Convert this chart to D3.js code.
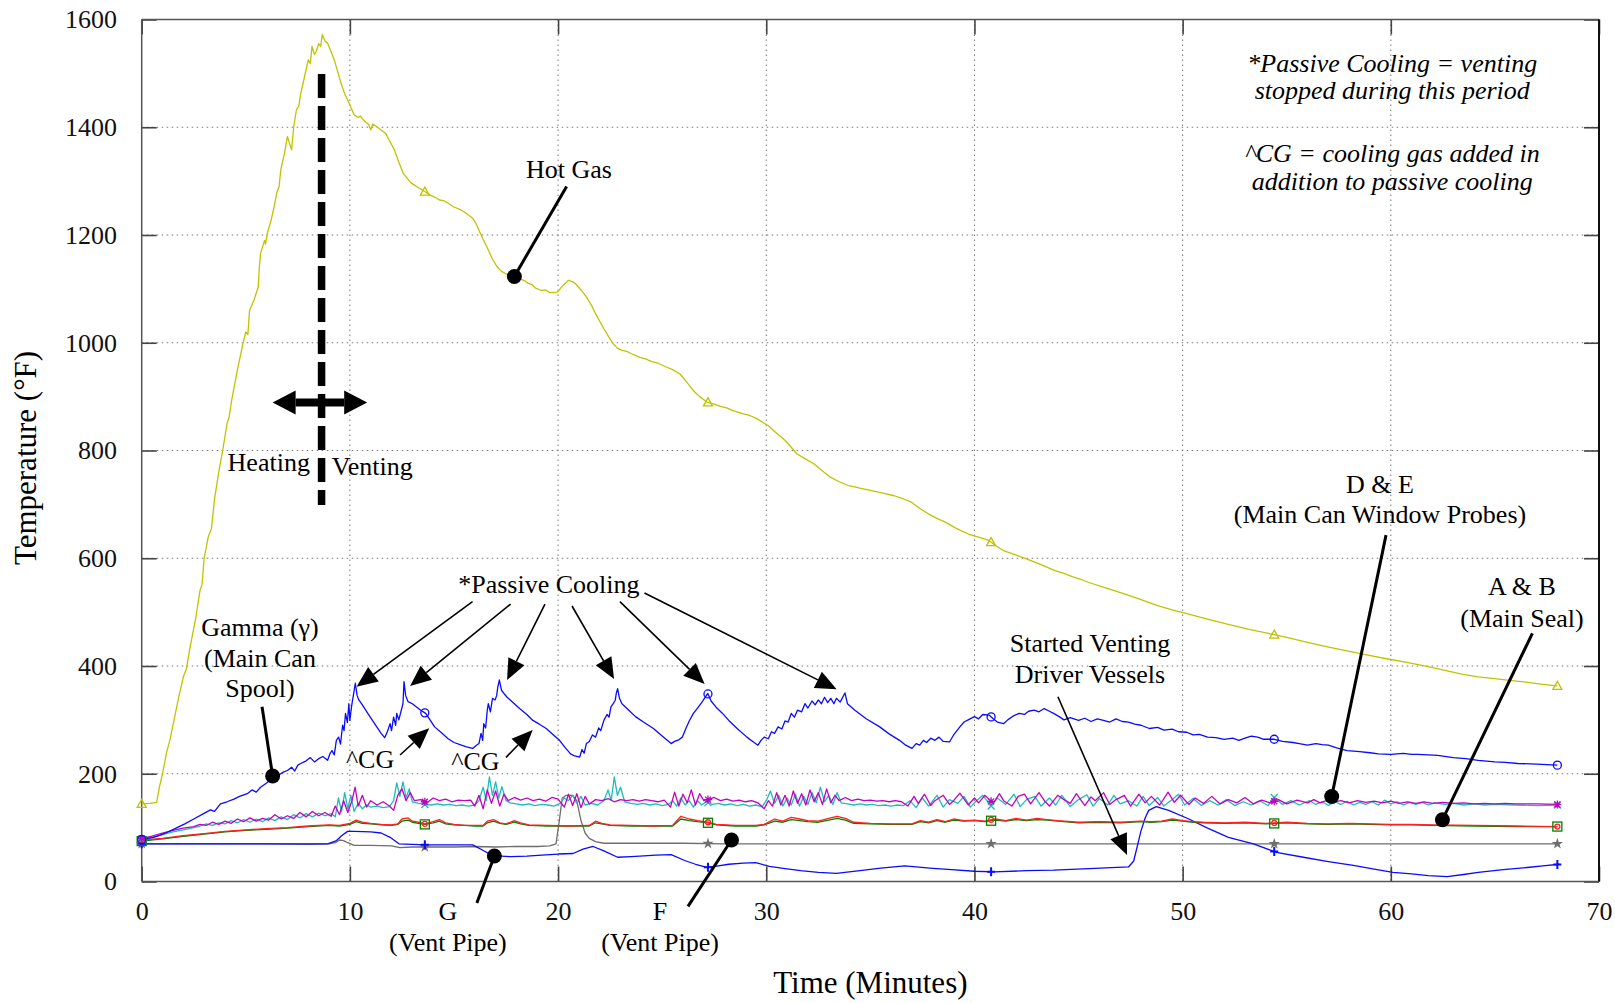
<!DOCTYPE html>
<html><head><meta charset="utf-8">
<script src="https://cdn.jsdelivr.net/npm/d3@7"></script>
<style>body{margin:0;background:#fff}</style>
</head><body>
<svg id="c" width="1615" height="1003"></svg>
<script>
// ---------------- DATA ----------------
const xTicks = [0,10,20,30,40,50,60,70];
const yTicks = [0,200,400,600,800,1000,1200,1400,1600];
const markerTimes = [0,13.6,27.2,40.8,54.4,68];

const hotGas = [[0,144],[0.4,145],[0.72,147],[0.85,175],[1.0,200],[1.2,240],[1.35,262],[1.5,290],[1.75,337],[2.0,380],[2.15,395],[2.3,430],[2.6,490],[2.8,540],[2.9,552],[3.0,600],[3.2,640],[3.35,655],[3.5,710],[3.7,760],[3.89,800],[4.1,850],[4.2,862],[4.32,893],[4.6,950],[4.86,998],[5.0,1020],[5.1,1015],[5.18,1060],[5.4,1080],[5.6,1104],[5.65,1140],[5.71,1166],[5.9,1190],[5.95,1183],[6.03,1203],[6.2,1225],[6.36,1252],[6.5,1280],[6.6,1290],[6.68,1321],[6.85,1350],[7.0,1383],[7.1,1370],[7.2,1358],[7.3,1400],[7.43,1432],[7.55,1440],[7.64,1463],[7.8,1490],[8.0,1525],[8.1,1518],[8.18,1550],[8.3,1535],[8.39,1541],[8.5,1555],[8.6,1550],[8.67,1572],[8.8,1560],[8.93,1556],[9.1,1540],[9.25,1525],[9.4,1505],[9.57,1482],[9.75,1462],[9.89,1451],[10.2,1423],[10.4,1418],[10.5,1421],[10.64,1414],[10.9,1405],[11.0,1395],[11.1,1406],[11.29,1401],[11.5,1395],[11.71,1389],[11.9,1375],[12.14,1358],[12.35,1335],[12.57,1314],[12.7,1308],[12.9,1298],[13.05,1294],[13.2,1290],[13.5,1283],[13.86,1274],[14.1,1270],[14.3,1265],[14.5,1264],[14.72,1259],[15.0,1252],[15.36,1246],[15.6,1240],[15.9,1231],[16.05,1222],[16.2,1209],[16.4,1192],[16.65,1172],[16.85,1155],[17.07,1141],[17.3,1132],[17.5,1128],[17.7,1126],[17.93,1122],[18.2,1118],[18.4,1115],[18.57,1110],[18.75,1108],[18.9,1102],[19.2,1097],[19.4,1098],[19.6,1093],[19.97,1094],[20.2,1105],[20.5,1116],[20.7,1113],[20.83,1110],[21.1,1098],[21.36,1085],[21.6,1070],[21.8,1054],[22.0,1040],[22.2,1026],[22.45,1010],[22.65,998],[22.85,990],[23.07,986],[23.3,984],[23.5,980],[23.93,973],[24.2,970],[24.5,965],[24.8,962],[25.2,955],[25.5,950],[25.86,942],[26.2,926],[26.5,911],[26.8,900],[27.15,890],[27.5,886],[27.8,882],[28.1,879],[28.4,874],[28.9,868],[29.2,865],[29.5,860],[30.1,846],[30.5,832],[30.9,819],[31.2,806],[31.46,794],[31.9,784],[32.3,775],[32.7,762],[33.1,750],[33.5,742],[33.94,735],[34.2,733],[34.5,730],[35.0,726],[35.6,721],[36.15,716],[36.6,710],[36.97,704],[37.4,692],[37.8,682],[38.2,674],[38.6,667],[39.1,656],[39.7,645],[40.2,639],[40.7,633],[41.0,624],[41.4,614],[42.0,606],[42.5,599],[43.2,588],[43.87,577],[44.3,572],[44.7,566],[45.1,561],[45.5,555],[46.3,545],[47.2,534],[48.0,523],[48.8,512],[49.5,504],[50.2,497],[51.1,488],[52.1,478],[53.2,468],[54.3,459],[55.1,452],[56.0,444],[56.9,436],[57.9,428],[58.9,420],[59.86,413],[60.7,407],[61.5,401],[62.5,393],[63.4,385],[64.2,380],[65.1,376],[65.8,373],[66.5,370],[67.3,366],[68.0,363]];

const gamma = [[0,78],[0.3,80],[0.57,82],[0.9,86],[1.2,91],[1.6,98],[2.07,107],[2.5,116],[2.93,125],[3.3,133],[3.5,130],[3.78,144],[4.1,148],[4.43,153],[4.7,158],[5.07,163],[5.3,170],[5.5,166],[5.71,175],[6.0,183],[6.36,194],[6.6,198],[6.8,203],[7.0,206],[7.2,212],[7.35,205],[7.5,216],[7.64,219],[7.9,224],[8.1,230],[8.3,222],[8.5,228],[8.7,232],[8.93,225],[9.05,238],[9.14,243],[9.25,235],[9.35,262],[9.46,268],[9.55,255],[9.65,290],[9.72,280],[9.79,312],[9.88,295],[9.95,330],[10.0,299],[10.08,325],[10.17,346],[10.26,368],[10.35,345],[10.43,337],[10.6,328],[10.86,312],[11.1,298],[11.29,287],[11.5,275],[11.67,267],[11.8,278],[11.93,293],[12.0,280],[12.1,305],[12.2,290],[12.25,312],[12.35,300],[12.47,318],[12.55,330],[12.6,371],[12.68,345],[12.79,334],[13.0,330],[13.2,324],[13.4,318],[13.64,312],[13.85,300],[14.07,287],[14.4,276],[14.72,265],[15.0,258],[15.36,253],[15.6,250],[15.9,247],[16.05,252],[16.2,256],[16.3,275],[16.38,262],[16.43,293],[16.52,285],[16.6,318],[16.65,330],[16.75,315],[16.85,340],[16.97,337],[17.05,345],[17.1,360],[17.18,374],[17.28,355],[17.4,349],[17.55,342],[17.7,337],[17.9,330],[18.15,321],[18.5,310],[18.79,299],[19.1,292],[19.43,284],[19.75,273],[20.07,262],[20.35,248],[20.6,237],[20.8,233],[21.04,231],[21.15,245],[21.25,238],[21.36,256],[21.5,260],[21.65,272],[21.8,268],[21.95,285],[22.05,280],[22.2,299],[22.35,310],[22.45,305],[22.54,324],[22.65,330],[22.75,337],[22.8,350],[22.86,358],[22.95,340],[23.07,330],[23.4,318],[23.72,306],[24.1,296],[24.58,284],[25.0,270],[25.43,256],[25.6,260],[25.8,263],[25.97,268],[26.15,285],[26.3,298],[26.5,312],[26.7,322],[26.93,334],[27.19,349],[27.35,335],[27.58,324],[27.9,312],[28.2,299],[28.6,284],[29.07,268],[29.35,260],[29.6,253],[29.75,262],[29.9,268],[30.1,265],[30.25,278],[30.4,275],[30.57,287],[30.75,283],[30.9,298],[31.05,296],[31.2,312],[31.35,305],[31.5,318],[31.7,315],[31.86,330],[32.0,322],[32.2,335],[32.35,328],[32.5,337],[32.65,330],[32.8,342],[32.95,332],[33.1,340],[33.25,330],[33.37,340],[33.55,333],[33.78,350],[33.9,330],[34.26,318],[34.8,302],[35.45,287],[35.9,274],[36.4,262],[36.7,253],[37.0,247],[37.2,256],[37.37,253],[37.55,262],[37.7,258],[37.9,266],[38.1,262],[38.3,268],[38.5,260],[38.8,259],[39.0,272],[39.3,287],[39.5,296],[39.7,300],[40.0,306],[40.2,302],[40.4,310],[40.7,309],[40.9,302],[41.1,296],[41.4,293],[41.6,300],[41.9,308],[42.15,312],[42.4,310],[42.6,316],[42.87,318],[43.1,315],[43.35,321],[43.6,316],[43.8,312],[44.07,306],[44.3,300],[44.6,304],[45.0,299],[45.3,303],[45.6,297],[45.9,302],[46.2,299],[46.5,296],[46.8,302],[47.1,297],[47.4,296],[47.7,292],[48.0,290],[48.4,284],[48.8,286],[49.1,281],[49.5,283],[49.8,278],[50.2,277],[50.5,272],[50.8,273],[51.2,268],[51.6,267],[52.0,264],[52.4,266],[52.7,262],[53.0,266],[53.3,270],[53.6,268],[53.9,264],[54.4,264],[54.8,260],[55.3,258],[55.6,256],[56.0,253],[56.4,256],[56.7,254],[57.0,253],[57.4,248],[57.9,243],[58.5,241],[59.0,239],[59.4,237],[60.0,236],[60.6,238],[61.0,236],[61.3,236],[61.8,235],[62.25,234],[63.0,230],[63.6,228],[64.2,225],[65.0,222],[65.5,221],[66.1,219],[67.0,218],[68.0,216]];

const probeD = [[0,80],[0.5,84],[1,90],[1.5,95],[2,99],[2.5,102],[2.8,106],[3.1,104],[3.4,110],[3.7,106],[4,112],[4.3,108],[4.6,116],[4.9,111],[5.2,118],[5.5,112],[5.8,117],[6.1,114],[6.4,124],[6.7,116],[7,122],[7.3,117],[7.6,128],[7.9,120],[8.2,130],[8.5,122],[8.8,128],[9.1,121],[9.3,140],[9.5,124],[9.7,150],[9.9,128],[10.1,150],[10.25,175],[10.4,140],[10.6,160],[10.8,138],[11.0,150],[11.3,142],[11.6,148],[11.9,140],[12.1,132],[12.3,160],[12.5,172],[12.7,150],[12.9,165],[13.1,150],[13.4,152],[13.7,146],[14.0,155],[14.3,150],[14.6,153],[14.9,148],[15.2,151],[15.5,150],[15.8,151],[16.0,140],[16.2,160],[16.4,135],[16.6,170],[16.8,145],[17.0,168],[17.2,140],[17.4,162],[17.6,150],[17.9,156],[18.2,151],[18.5,155],[18.8,150],[19.1,153],[19.4,149],[19.7,156],[20.0,153],[20.3,138],[20.5,162],[20.7,141],[20.9,163],[21.1,137],[21.3,158],[21.5,144],[21.8,152],[22.1,150],[22.4,154],[22.7,148],[23.0,152],[23.3,150],[23.6,152],[23.9,149],[24.2,152],[24.5,150],[24.8,148],[25.1,151],[25.4,138],[25.6,166],[25.8,140],[26.0,162],[26.2,146],[26.4,170],[26.6,142],[26.8,163],[27.0,150],[27.2,152],[27.5,156],[27.8,150],[28.1,153],[28.4,149],[28.7,151],[29.0,148],[29.3,150],[29.6,146],[29.9,135],[30.1,150],[30.3,140],[30.5,165],[30.7,142],[30.9,160],[31.1,140],[31.3,168],[31.5,145],[31.7,163],[31.9,142],[32.1,170],[32.3,148],[32.5,165],[32.7,143],[32.9,172],[33.1,146],[33.3,160],[33.5,150],[33.8,156],[34.1,150],[34.4,153],[34.7,150],[35.0,151],[35.3,149],[35.6,150],[35.9,148],[36.2,150],[36.5,148],[36.8,140],[37.1,158],[37.3,145],[37.6,162],[37.9,141],[38.1,150],[38.5,160],[38.8,143],[39.0,150],[39.3,164],[39.7,142],[40.0,155],[40.2,146],[40.5,160],[40.9,145],[41.2,163],[41.4,150],[41.8,140],[42.1,158],[42.4,162],[42.7,144],[43.1,165],[43.4,148],[43.6,140],[44.0,160],[44.3,152],[44.6,145],[44.9,163],[45.3,141],[45.6,157],[45.8,150],[46.2,165],[46.5,143],[46.8,152],[47.2,160],[47.5,140],[47.9,162],[48.2,146],[48.5,158],[48.9,142],[49.3,166],[49.6,147],[49.9,160],[50.3,143],[50.6,155],[51.0,145],[51.4,158],[51.8,144],[52.2,152],[52.6,146],[53.0,156],[53.4,144],[53.8,151],[54.2,146],[54.6,152],[55.0,144],[55.5,151],[56.0,146],[56.3,152],[56.6,146],[56.9,150],[57.2,147],[57.6,150],[58.0,146],[58.4,150],[58.8,147],[59.2,149],[59.6,146],[60.0,149],[60.4,145],[60.8,148],[61.2,145],[61.6,148],[62.0,145],[62.5,147],[63.0,145],[63.5,146],[64.0,144],[64.5,145],[65.0,144],[65.5,145],[66.0,144],[67.0,144],[68.0,143]];

const probeE = [[0,78],[0.5,82],[1,87],[1.5,92],[2,96],[2.5,100],[2.8,103],[3.1,107],[3.4,104],[3.7,109],[4,107],[4.3,113],[4.6,109],[4.9,115],[5.2,110],[5.5,116],[5.8,111],[6.1,118],[6.4,113],[6.7,120],[7,115],[7.3,124],[7.6,118],[7.9,126],[8.2,120],[8.5,127],[8.8,122],[9.1,126],[9.3,120],[9.45,155],[9.6,130],[9.75,165],[9.9,135],[10.05,160],[10.2,130],[10.4,145],[10.6,135],[10.8,142],[11.0,138],[11.3,140],[11.6,137],[11.9,139],[12.1,150],[12.25,183],[12.4,158],[12.55,185],[12.7,155],[12.85,172],[13.0,148],[13.3,145],[13.6,143],[13.9,142],[14.2,144],[14.5,142],[14.8,143],[15.1,141],[15.4,142],[15.7,140],[16.0,142],[16.2,150],[16.4,175],[16.55,150],[16.7,194],[16.85,160],[17.0,185],[17.15,155],[17.3,176],[17.5,150],[17.7,146],[18.0,144],[18.3,142],[18.6,144],[18.9,141],[19.2,143],[19.5,142],[19.8,140],[20.1,145],[20.3,155],[20.5,150],[20.7,160],[20.9,145],[21.1,158],[21.3,142],[21.6,145],[21.9,142],[22.2,150],[22.4,170],[22.55,150],[22.7,194],[22.85,160],[23.0,175],[23.2,148],[23.5,145],[23.8,143],[24.1,145],[24.4,142],[24.7,144],[25.0,141],[25.3,143],[25.5,150],[25.7,140],[25.9,155],[26.1,142],[26.3,150],[26.5,138],[26.7,150],[26.9,142],[27.1,148],[27.4,143],[27.7,145],[28.0,142],[28.3,144],[28.6,141],[28.9,143],[29.2,140],[29.5,142],[29.8,139],[30.0,150],[30.2,168],[30.4,145],[30.6,160],[30.8,140],[31.0,155],[31.2,142],[31.4,162],[31.6,140],[31.8,158],[32.0,143],[32.2,165],[32.4,146],[32.6,175],[32.8,148],[33.0,160],[33.2,143],[33.4,165],[33.6,146],[33.9,144],[34.2,142],[34.5,144],[34.8,142],[35.1,143],[35.4,141],[35.7,142],[36.0,140],[36.3,142],[36.6,141],[36.9,150],[37.2,137],[37.5,155],[37.8,140],[38.2,160],[38.5,138],[38.8,152],[39.2,145],[39.5,158],[39.8,138],[40.1,150],[40.4,160],[40.8,140],[41.1,155],[41.5,143],[41.9,162],[42.2,139],[42.5,152],[42.9,158],[43.2,140],[43.6,155],[43.9,142],[44.2,160],[44.6,139],[45.0,152],[45.4,161],[45.7,140],[46.0,154],[46.4,142],[46.7,160],[47.0,144],[47.4,150],[47.8,140],[48.1,158],[48.4,141],[48.8,156],[49.1,140],[49.5,152],[49.8,162],[50.1,142],[50.5,154],[50.9,141],[51.3,150],[51.7,142],[52.1,152],[52.5,141],[52.9,148],[53.3,142],[53.7,150],[54.1,141],[54.4,156],[54.8,143],[55.2,150],[55.6,142],[56.1,150],[56.4,143],[56.7,148],[57.0,141],[57.3,148],[57.6,143],[57.9,149],[58.2,142],[58.5,147],[58.8,143],[59.1,148],[59.4,142],[59.7,151],[60.0,144],[60.3,148],[60.6,142],[60.9,147],[61.2,143],[61.5,147],[61.8,142],[62.1,146],[62.6,143],[63.0,145],[63.5,142],[64.0,144],[64.5,142],[65.0,143],[66.0,142],[67.0,141],[68.0,142]];

const sealA = [[0,77],[1,80],[2,85],[3,89],[4,93],[5,96],[6,98],[7,100],[8,103],[9,105],[9.5,104],[10.0,108],[10.3,114],[10.6,110],[11.0,108],[11.5,106],[12.0,105],[12.3,107],[12.5,116],[12.8,118],[13.0,112],[13.3,110],[13.6,107],[14.0,111],[14.3,115],[14.6,109],[15.0,106],[15.5,104],[16.0,104],[16.4,104],[16.6,112],[16.9,115],[17.2,109],[17.5,107],[17.9,113],[18.2,109],[18.6,105],[19.5,104],[20.5,103],[21.5,104],[21.8,112],[22.1,108],[22.5,105],[23.5,104],[24.5,103],[25.5,104],[25.9,121],[26.3,116],[26.7,113],[27.2,110],[27.6,106],[28.5,104],[29.5,104],[29.9,106],[30.4,116],[30.8,112],[31.2,119],[31.6,116],[32.0,113],[32.5,112],[33.0,117],[33.4,121],[33.8,117],[34.2,110],[35,108],[36,107],[37,107],[37.4,113],[37.8,110],[38.2,115],[38.6,111],[39.0,116],[39.5,113],[40,114],[40.5,112],[41,116],[41.5,113],[42,117],[42.5,114],[43,117],[43.5,115],[44,113],[45,110],[46,111],[47,110],[48,112],[48.5,111],[49,112],[49.5,116],[50,113],[50.5,111],[51,110],[52,109],[53,110],[54,108],[55,110],[56,108],[57,107],[58,108],[59,107],[60,106],[61,106],[62,105],[64,104],[66,103],[68,102]];

const sealB = [[0,75],[1,79],[2,84],[3,88],[4,92],[5,95],[6,97],[7,99],[8,102],[9,104],[9.5,103],[10.0,106],[10.3,111],[10.6,108],[11.0,107],[11.5,105],[12.0,104],[12.3,106],[12.5,112],[12.8,114],[13.0,110],[13.3,108],[13.6,106],[14.0,109],[14.3,112],[14.6,107],[15.0,105],[15.5,104],[16.0,103],[16.4,103],[16.6,109],[16.9,112],[17.2,108],[17.5,106],[17.9,110],[18.2,107],[18.6,104],[19.5,103],[20.5,103],[21.5,103],[21.8,109],[22.1,107],[22.5,104],[23.5,103],[24.5,103],[25.5,103],[25.9,116],[26.3,113],[26.7,111],[27.2,109],[27.6,105],[28.5,103],[29.5,103],[29.9,105],[30.4,112],[30.8,110],[31.2,115],[31.6,113],[32.0,111],[32.5,110],[33.0,114],[33.4,117],[33.8,114],[34.2,108],[35,107],[36,106],[37,106],[37.4,111],[37.8,109],[38.2,113],[38.6,110],[39.0,114],[39.5,112],[40,113],[40.5,111],[41,114],[41.5,112],[42,115],[42.5,113],[43,115],[43.5,114],[44,112],[45,109],[46,110],[47,109],[48,111],[48.5,110],[49,111],[49.5,114],[50,112],[50.5,110],[51,109],[52,108],[53,109],[54,107],[55,109],[56,107],[57,106],[58,107],[59,106],[60,105],[61,105],[62,104],[64,103],[66,102],[68,102]];

const ventF = [[0,70],[2,70],[4,70],[6,70],[8,69],[9.0,70],[9.3,72],[9.5,77],[9.7,76],[9.9,72],[10.2,67],[11.0,67],[12.0,66],[12.4,63],[13.0,64],[14.0,64],[15.0,64],[16.0,65],[17.0,64],[18.0,65],[19.0,65],[19.6,66],[19.9,70],[20.05,110],[20.2,155],[20.4,160],[20.7,160],[20.9,150],[21.1,113],[21.3,90],[21.5,80],[21.8,74],[22.2,71],[24,71],[26,71],[28,70],[30,70],[32,70],[34,70],[36,70],[38,70],[40,70],[44,70],[48,70],[52,70],[56,70],[60,70],[64,70],[68,70]];

const ventG = [[0,70],[2,70],[4,70],[6,70],[8,70],[8.93,70],[9.36,76],[9.6,85],[9.89,93],[10.21,93],[11.0,92],[11.5,90],[11.93,82],[12.36,70],[13.0,69],[13.64,68],[14.5,68],[15.9,68],[16.43,57],[16.86,48],[17.72,46],[18.5,47],[19.22,49],[20.0,51],[20.72,52],[21.2,60],[21.68,65],[22.2,57],[22.86,45],[23.5,46],[23.93,47],[24.7,49],[25.43,50],[26.08,39],[26.6,32],[27.15,26],[27.7,29],[28.2,32],[28.9,34],[29.5,35],[30.15,28],[30.9,24],[31.65,20],[32.5,17],[33.37,15],[34.5,20],[35.5,25],[36.65,29],[37.2,27],[37.85,25],[38.9,22],[40.0,19],[40.96,18],[42.5,20],[43.8,21],[45.5,24],[47.4,27],[47.65,38],[47.85,70],[48.0,94],[48.2,118],[48.37,132],[48.73,139],[49.33,132],[50.3,116],[51.2,99],[52.2,82],[53.4,70],[54.5,54],[55.8,45],[57.0,37],[58.2,30],[59.2,23],[60.1,17],[61.0,14],[61.8,11],[62.7,9],[63.5,13],[64.2,17],[65.4,22],[66.55,26],[67.3,29],[68.1,32]];

// ---------------- CHART ----------------
const W = 1615, H = 1003;
const FONT = '"Liberation Serif","Times New Roman",serif';
const svg = d3.select('#c');
svg.append('rect').attr('width', W).attr('height', H).attr('fill', '#fff');

const x = d3.scaleLinear().domain([0, 70]).range([141.7, 1599]);
const y = d3.scaleLinear().domain([0, 1600]).range([881.5, 19.5]);
const [X0, X1] = x.range(), [Y0, Y1] = y.range();

// grid
const grid = svg.append('g').attr('stroke', '#777').attr('stroke-width', 1).attr('stroke-dasharray', '1.5,3.5');
grid.selectAll('.gx').data(xTicks.slice(1, -1)).join('line')
  .attr('x1', d => x(d)).attr('x2', d => x(d)).attr('y1', Y1).attr('y2', Y0);
grid.selectAll('.gy').data(yTicks.slice(1, -1)).join('line')
  .attr('x1', X0).attr('x2', X1).attr('y1', d => y(d)).attr('y2', d => y(d));

// axes
function styleAxis(g) {
  g.attr('font-family', FONT);
  g.select('.domain').remove();
  g.selectAll('.tick line').attr('stroke', '#444').attr('stroke-width', 1.6);
  g.selectAll('.tick text').attr('font-family', FONT).attr('font-size', 26).attr('fill', '#111');
}
svg.append('g').attr('transform', `translate(0,${Y0})`)
  .call(d3.axisBottom(x).tickValues(xTicks).tickSize(-15).tickPadding(20).tickFormat(d3.format('d'))).call(styleAxis);
svg.append('g').attr('transform', `translate(${X0},0)`)
  .call(d3.axisLeft(y).tickValues(yTicks).tickSize(-15).tickPadding(24.7).tickFormat(d3.format('d'))).call(styleAxis);
svg.append('g').attr('transform', `translate(0,${Y1})`)
  .call(d3.axisTop(x).tickValues(xTicks).tickSize(-15).tickFormat('')).call(styleAxis);
svg.append('g').attr('transform', `translate(${X1},0)`)
  .call(d3.axisRight(y).tickValues(yTicks).tickSize(-15).tickFormat('')).call(styleAxis);

// frame
svg.append('line').attr('x1', X0).attr('x2', X1).attr('y1', Y1).attr('y2', Y1).attr('stroke', '#555').attr('stroke-width', 1.5);
svg.append('line').attr('x1', X0).attr('x2', X1).attr('y1', Y0).attr('y2', Y0).attr('stroke', '#555').attr('stroke-width', 1.5);
svg.append('line').attr('x1', X0).attr('x2', X0).attr('y1', Y1).attr('y2', Y0).attr('stroke', '#555').attr('stroke-width', 1.5);
svg.append('line').attr('x1', X1).attr('x2', X1).attr('y1', Y1).attr('y2', Y0).attr('stroke', '#111').attr('stroke-width', 2);

// axis titles
svg.append('text').attr('x', (X0 + X1) / 2).attr('y', 993).attr('text-anchor', 'middle')
  .attr('font-family', FONT).attr('font-size', 31).text('Time (Minutes)');
svg.append('text').attr('transform', 'translate(36,458) rotate(-90)').attr('text-anchor', 'middle')
  .attr('font-family', FONT).attr('font-size', 31).text('Temperature (°F)');

// series
const line = d3.line().x(d => x(d[0])).y(d => y(d[1]));
const series = [
  {data: ventF, color: '#6e6e6e', marker: 'star'},
  {data: ventG, color: '#0a0aff', marker: 'plus'},
  {data: sealB, color: '#008000', marker: 'square'},
  {data: sealA, color: '#ff2020', marker: 'smallcircle'},
  {data: probeE, color: '#1cbcbc', marker: 'x'},
  {data: probeD, color: '#c400c4', marker: 'asterisk'},
  {data: gamma, color: '#0a0aff', marker: 'circle'},
  {data: hotGas, color: '#c2c200', marker: 'triangle'}
];
function interp(data, t) {
  const i = Math.max(0, Math.min(data.length - 2, d3.bisector(d => d[0]).right(data, t) - 1));
  const a = data[i], b = data[i + 1];
  const f = Math.max(0, Math.min(1, (t - a[0]) / (b[0] - a[0])));
  return a[1] + f * (b[1] - a[1]);
}
const sg = svg.append('g');
series.forEach(s => {
  sg.append('path').attr('d', line(s.data)).attr('fill', 'none')
    .attr('stroke', s.color).attr('stroke-width', 1.3).attr('stroke-linejoin', 'round');
});
series.forEach(s => {
  markerTimes.forEach(t => {
    const px = x(t), py = y(interp(s.data, t));
    const g = sg.append('g').attr('transform', `translate(${px},${py})`)
      .attr('stroke', s.color).attr('fill', 'none').attr('stroke-width', 1.3);
    if (s.marker === 'triangle') g.append('path').attr('d', 'M0,-4.5L4.5,3.5L-4.5,3.5Z');
    else if (s.marker === 'circle') g.append('circle').attr('r', 4);
    else if (s.marker === 'square') g.append('rect').attr('x', -4.5).attr('y', -4.5).attr('width', 9).attr('height', 9);
    else if (s.marker === 'smallcircle') g.append('circle').attr('r', 2.5);
    else if (s.marker === 'x') g.append('path').attr('d', 'M-3.5,-3.5L3.5,3.5M-3.5,3.5L3.5,-3.5');
    else if (s.marker === 'asterisk') g.append('path').attr('d', 'M-4,0L4,0M0,-4L0,4M-3,-3L3,3M-3,3L3,-3');
    else if (s.marker === 'plus') g.append('path').attr('d', 'M-4,0L4,0M0,-4.5L0,4.5').attr('stroke-width', 2);
    else if (s.marker === 'star') g.append('path').attr('d', d3.symbol(d3.symbolStar, 40)()).attr('fill', s.color).attr('stroke', 'none');
  });
});

// ---------------- ANNOTATIONS ----------------
const ann = svg.append('g');
function txt(t, v, str, opts = {}) {
  ann.append('text').attr('x', x(t)).attr('y', y(v)).attr('text-anchor', opts.anchor || 'middle')
    .attr('font-family', FONT).attr('font-size', opts.size || 26)
    .attr('font-style', opts.italic ? 'italic' : 'normal').attr('fill', '#000').text(str);
}
function head(x2, y2, x1, y1, len, hw) {
  const a = Math.atan2(y2 - y1, x2 - x1);
  const bx = x2 - len * Math.cos(a), by = y2 - len * Math.sin(a);
  const nx = -Math.sin(a) * hw, ny = Math.cos(a) * hw;
  ann.append('path').attr('d', `M${x2},${y2}L${bx + nx},${by + ny}L${bx - nx},${by - ny}Z`).attr('fill', '#000');
  return [bx, by];
}
function arrow(t1, v1, t2, v2) {
  const x1 = x(t1), y1 = y(v1), x2 = x(t2), y2 = y(v2);
  const [bx, by] = head(x2, y2, x1, y1, 21, 9);
  ann.append('line').attr('x1', x1).attr('y1', y1).attr('x2', bx).attr('y2', by).attr('stroke', '#000').attr('stroke-width', 1.6);
}
function pointer(t1, v1, t2, v2) {
  ann.append('line').attr('x1', x(t1)).attr('y1', y(v1)).attr('x2', x(t2)).attr('y2', y(v2)).attr('stroke', '#000').attr('stroke-width', 3);
  ann.append('circle').attr('cx', x(t2)).attr('cy', y(v2)).attr('r', 7.5).attr('fill', '#000');
}

// heating / venting divider
ann.append('line').attr('x1', x(8.64)).attr('x2', x(8.64)).attr('y1', y(1499)).attr('y2', y(699))
  .attr('stroke', '#000').attr('stroke-width', 7.5).attr('stroke-dasharray', '24,8');
{
  const xa = x(6.29), xb = x(10.83), yy = y(889);
  const [b1] = head(xa, yy, xb, yy, 23, 12);
  const [b2] = head(xb, yy, xa, yy, 23, 12);
  ann.append('line').attr('x1', b1).attr('x2', b2).attr('y1', yy).attr('y2', yy).attr('stroke', '#000').attr('stroke-width', 8);
}
txt(8.08, 762.5, 'Heating', {anchor: 'end'});
txt(9.13, 754.5, 'Venting', {anchor: 'start'});

// notes
txt(60.07, 1503, '*Passive Cooling = venting', {italic: true});
txt(60.07, 1452, 'stopped during this period', {italic: true});
txt(60.07, 1336, '^CG = cooling gas added in', {italic: true});
txt(60.07, 1284, 'addition to passive cooling', {italic: true});

// hot gas
txt(20.52, 1305, 'Hot Gas');
pointer(20.41, 1290, 17.9, 1123);

// gamma
txt(5.68, 455.6, 'Gamma (γ)');
txt(5.68, 398.1, '(Main Can');
txt(5.68, 342.4, 'Spool)');
pointer(5.78, 324.4, 6.29, 195.8);

// passive cooling
txt(19.56, 536, '*Passive Cooling');
arrow(15.89, 519.4, 10.32, 361.6);
arrow(17.72, 515, 12.89, 362.9);
arrow(19.37, 515, 17.55, 374);
arrow(20.67, 511.4, 22.69, 375.9);
arrow(22.97, 519.4, 27.04, 366.6);
arrow(24.15, 535.5, 33.38, 356.8);

// ^CG
txt(10.97, 210, '^CG');
arrow(12.41, 234.8, 13.81, 284.4);
txt(16.03, 207, '^CG');
arrow(17.5, 230.5, 18.78, 281.2);

// G & F vent pipes
txt(14.71, -71.3, 'G');
txt(14.71, -129, '(Vent Pipe)');
pointer(16.1, -40, 16.94, 47.3);
txt(24.9, -71.3, 'F');
txt(24.9, -129, '(Vent Pipe)');
pointer(26.24, -46.2, 28.33, 77);

// started venting
txt(45.55, 426.5, 'Started Venting');
txt(45.55, 369, 'Driver Vessels');
arrow(44.01, 343, 47.33, 49.2);

// D & E
txt(59.48, 721.7, 'D & E');
txt(59.48, 664.9, '(Main Can Window Probes)');
pointer(59.77, 643, 57.16, 157.8);

// A & B
txt(66.3, 531.8, 'A & B');
txt(66.3, 473, '(Main Seal)');
pointer(66.8, 460.7, 62.48, 114.5);
</script>
</body></html>
